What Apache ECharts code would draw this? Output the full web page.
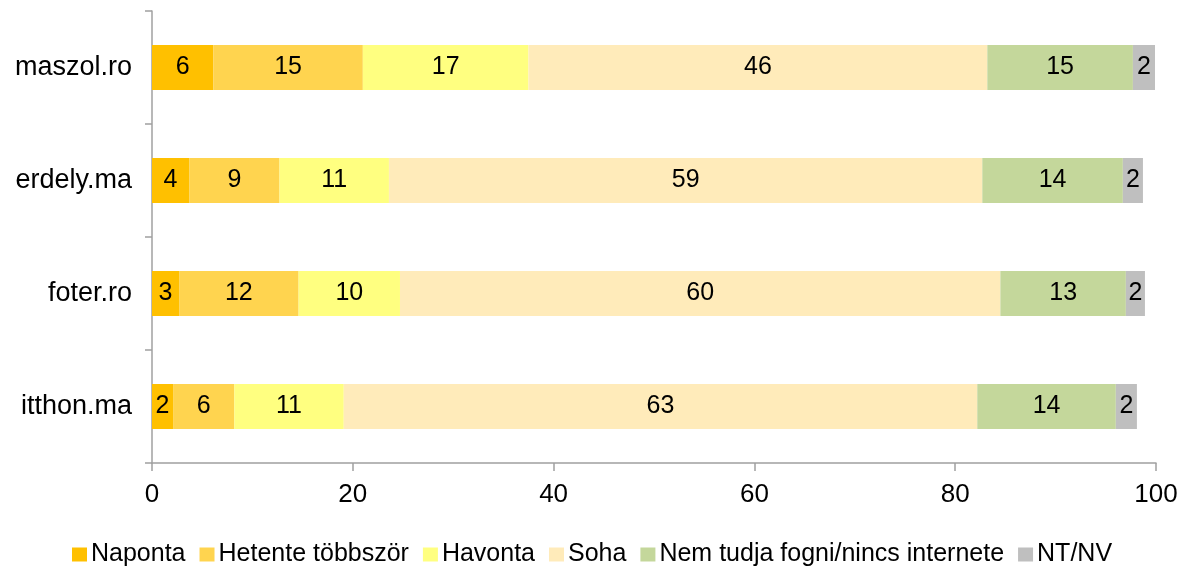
<!DOCTYPE html>
<html><head><meta charset="utf-8">
<script src="https://cdn.jsdelivr.net/npm/echarts@6/dist/echarts.min.js"></script>
<style>html,body{margin:0;padding:0;background:#fff}#c{width:1189px;height:570px}</style>
</head><body><div id="c"></div>
<script>
const categories = ['maszol.ro', 'erdely.ma', 'foter.ro', 'itthon.ma'];
const seriesNames = ['Naponta', 'Hetente többször', 'Havonta', 'Soha', 'Nem tudja fogni/nincs internete', 'NT/NV'];
const naponta = [6.1, 3.7, 2.7, 2.1];
const hetente = [14.9, 9.0, 11.9, 6.1];
const havonta = [16.5, 10.9, 10.1, 10.9];
const soha = [45.7, 59.1, 59.8, 63.1];
const nemTudja = [14.5, 14.0, 12.5, 13.8];
const ntnv = [2.2, 2.0, 1.9, 2.1];
const xTicks = [0, 20, 40, 60, 80, 100];
const colors = ['#FFC000', '#FFD44F', '#FFFF80', '#FFEBBA', '#C4D79B', '#BFBFBF'];

const values = [naponta, hetente, havonta, soha, nemTudja, ntnv];
const font = 'Liberation Sans, Arial, sans-serif';
const chart = echarts.init(document.getElementById('c'));
chart.setOption({
  animation: false,
  grid: {left: 152, right: 33, top: 11, bottom: 107, containLabel: false},
  color: colors,
  legend: {
    top: 537, left: 67, itemWidth: 15, itemHeight: 14, itemGap: 14,
    icon: 'rect',
    textStyle: {fontFamily: font, fontSize: 25, color: '#000', padding: [0, 0, 0, -1]},
    data: seriesNames
  },
  xAxis: {
    type: 'value', min: xTicks[0], max: xTicks[xTicks.length - 1], interval: 20,
    axisLine: {show: true, lineStyle: {color: '#a0a0a0', width: 1.5}},
    axisTick: {show: true, length: 8, lineStyle: {color: '#a0a0a0', width: 1.5}},
    splitLine: {show: false},
    axisLabel: {fontFamily: font, fontSize: 26, color: '#000', margin: 19}
  },
  yAxis: {
    type: 'category', data: categories, inverse: true,
    axisLine: {show: true, lineStyle: {color: '#a0a0a0', width: 1.5}},
    axisTick: {show: true, length: 7, alignWithLabel: false, lineStyle: {color: '#a0a0a0', width: 1.5}},
    axisLabel: {fontFamily: font, fontSize: 27, color: '#000', margin: 20}
  },
  series: seriesNames.map((n, i) => ({
    name: n, type: 'bar', stack: 'total', barWidth: 45,
    data: values[i],
    itemStyle: {color: colors[i]},
    label: {
      show: true, position: 'inside', fontFamily: font, fontSize: 25, color: '#000',
      formatter: p => Math.round(p.value)
    }
  }))
});
</script></body></html>
